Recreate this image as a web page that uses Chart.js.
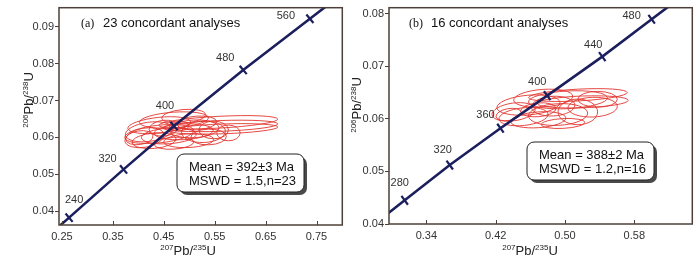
<!DOCTYPE html>
<html>
<head>
<meta charset="utf-8">
<script src="https://cdn.jsdelivr.net/npm/chart.js@4/dist/chart.umd.min.js"></script>
<style>
  html, body { margin: 0; padding: 0; background: #fff; }
  #wrap { position: relative; width: 700px; height: 255px; overflow: hidden; }
  .panel { position: absolute; top: 0; width: 350px; height: 255px; }
  #pa { left: 0; }
  #pb { left: 350px; }
</style>
</head>
<body>
<div id="wrap">
  <div class="panel" id="pa"><canvas id="chartA" width="350" height="255"></canvas></div>
  <div class="panel" id="pb"><canvas id="chartB" width="350" height="255"></canvas></div>
</div>
<script>
// ---- (a) 23 concordant analyses ----
const agesA = [240, 320, 400, 480, 560];
const concXA = [0.264, 0.371, 0.470, 0.606, 0.737];
const concYA = [0.0382, 0.0513, 0.0631, 0.0783, 0.0922];
const concEndXA = [0.245, 0.770];
const concEndYA = [0.0359, 0.0957];
const xTicksA = [0.25, 0.35, 0.45, 0.55, 0.65, 0.75];
const xLabelsA = ['0.25', '0.35', '0.45', '0.55', '0.65', '0.75'];
const yTicksA = [0.04, 0.05, 0.06, 0.07, 0.08, 0.09];
const yLabelsA = ['0.04', '0.05', '0.06', '0.07', '0.08', '0.09'];
// error ellipses: centre, semi-axes (data units), tilt (deg)
const ellXA = [0.557, 0.561, 0.567, 0.489, 0.470, 0.441, 0.421, 0.412, 0.402, 0.431, 0.460, 0.489, 0.509, 0.528, 0.548, 0.538, 0.499, 0.470, 0.450, 0.515, 0.577, 0.441, 0.480];
const ellYA = [0.0641, 0.0631, 0.0623, 0.0657, 0.0647, 0.0633, 0.0615, 0.0599, 0.0599, 0.0591, 0.0604, 0.0615, 0.0623, 0.0615, 0.0620, 0.0601, 0.0591, 0.0584, 0.0625, 0.0639, 0.0612, 0.0609, 0.0631];
const ellSxA = [0.117, 0.113, 0.107, 0.043, 0.068, 0.062, 0.047, 0.039, 0.027, 0.043, 0.054, 0.058, 0.049, 0.043, 0.029, 0.035, 0.049, 0.039, 0.029, 0.039, 0.023, 0.068, 0.019];
const ellSyA = [0.0016, 0.00146, 0.00133, 0.00186, 0.00213, 0.00213, 0.0026, 0.0026, 0.00186, 0.0021, 0.00213, 0.00213, 0.0024, 0.0029, 0.0024, 0.00213, 0.00186, 0.0016, 0.00213, 0.00186, 0.00213, 0.0024, 0.00133];
const ellTiltA = [-3, -2, -2, -5, -4, -6, -8, -10, -8, -5, -4, -3, -3, -2, 0, -2, -3, -4, -6, -4, 0, -6, 0];
const statsA = ['Mean = 392±3 Ma', 'MSWD = 1.5,n=23'];

// ---- (b) 16 concordant analyses ----
const agesB = [280, 320, 360, 400, 440, 480];
const concXB = [0.315, 0.367, 0.4255, 0.4795, 0.543, 0.600];
const concYB = [0.0445, 0.0512, 0.0582, 0.0644, 0.0718, 0.0789];
const concEndXB = [0.295, 0.620];
const concEndYB = [0.0419, 0.0814];
const xTicksB = [0.34, 0.42, 0.50, 0.58];
const xLabelsB = ['0.34', '0.42', '0.50', '0.58'];
const yTicksB = [0.04, 0.05, 0.06, 0.07, 0.08];
const yLabelsB = ['0.04', '0.05', '0.06', '0.07', '0.08'];
const ellXB = [0.5148, 0.5205, 0.5034, 0.4749, 0.4578, 0.4407, 0.4521, 0.4692, 0.4920, 0.5148, 0.5319, 0.4863, 0.5376, 0.4692, 0.4977, 0.435];
const ellYB = [0.0645, 0.0632, 0.0636, 0.0639, 0.0626, 0.0613, 0.0604, 0.0598, 0.0608, 0.0613, 0.0622, 0.0624, 0.0637, 0.0617, 0.0591, 0.0608];
const ellSxB = [0.0570, 0.0525, 0.0456, 0.0342, 0.0365, 0.0251, 0.0285, 0.0319, 0.0342, 0.0228, 0.0285, 0.0251, 0.0228, 0.0205, 0.0251, 0.0148];
const ellSyB = [0.00112, 0.00112, 0.00168, 0.00168, 0.00187, 0.00168, 0.00168, 0.0015, 0.00206, 0.00243, 0.00187, 0.00187, 0.0015, 0.00131, 0.00093, 0.00112];
const ellTiltB = [-3, -2, -3, -4, -5, -8, -6, -4, -3, 0, -2, -3, 0, -5, -3, -10];
const statsB = ['Mean = 388±2 Ma', 'MSWD = 1.2,n=16'];

const NAVY = '#1b1f5e';
const FRAME = '#4d4039';
const RED = '#e2362f';
const SANS = "'Liberation Sans', Arial, sans-serif";

// text with superscript mass numbers, e.g. 207Pb/235U
function isoText(ctx, parts, cx, baseY) {
  const big = '13px ' + SANS, sup = '8px ' + SANS;
  let w = 0;
  parts.forEach(p => { ctx.font = p[1] ? sup : big; w += ctx.measureText(p[0]).width; });
  let x = cx - w / 2;
  ctx.textAlign = 'left';
  ctx.textBaseline = 'alphabetic';
  parts.forEach(p => {
    ctx.font = p[1] ? sup : big;
    ctx.fillText(p[0], x, p[1] ? baseY - 5 : baseY);
    x += ctx.measureText(p[0]).width;
  });
}

function makeDeco(cfg) {
  return {
    id: 'deco' + cfg.tag,
    beforeDatasetsDraw(chart) {
      const { ctx, chartArea: ca, scales: { x, y } } = chart;
      ctx.save();
      ctx.beginPath();
      ctx.rect(ca.left, ca.top, ca.width, ca.height);
      ctx.clip();
      ctx.strokeStyle = RED;
      ctx.lineWidth = 0.9;
      cfg.ex.forEach((ex, i) => {
        const px = x.getPixelForValue(ex);
        const py = y.getPixelForValue(cfg.ey[i]);
        const rx = Math.abs(x.getPixelForValue(ex + cfg.sx[i]) - px);
        const ry = Math.abs(y.getPixelForValue(cfg.ey[i] + cfg.sy[i]) - py);
        ctx.beginPath();
        ctx.ellipse(px, py, rx, ry, cfg.tilt[i] * Math.PI / 180, 0, Math.PI * 2);
        ctx.stroke();
      });
      ctx.restore();
    },
    afterDraw(chart) {
      const { ctx, chartArea: ca, scales: { x, y } } = chart;
      ctx.save();
      // frame + inward x ticks
      ctx.strokeStyle = FRAME;
      ctx.lineWidth = 1.5;
      ctx.strokeRect(ca.left, ca.top, ca.width, ca.height);
      ctx.lineWidth = 1;
      x.ticks.forEach(t => {
        const px = Math.round(x.getPixelForValue(t.value)) + 0.5;
        ctx.beginPath();
        ctx.moveTo(px, ca.bottom);
        ctx.lineTo(px, ca.bottom - 4);
        ctx.stroke();
      });
      // age labels on concordia
      ctx.fillStyle = '#333';
      ctx.font = '11px ' + SANS;
      ctx.textAlign = 'center';
      ctx.textBaseline = 'middle';
      cfg.ages.forEach((age, i) => {
        const px = x.getPixelForValue(cfg.cx[i]);
        const py = y.getPixelForValue(cfg.cy[i]);
        ctx.fillText(String(age), px + cfg.labOff[i][0], py + cfg.labOff[i][1]);
      });
      // panel title
      ctx.fillStyle = '#111';
      ctx.textAlign = 'left';
      ctx.textBaseline = 'alphabetic';
      ctx.font = "12px 'Liberation Serif', 'Times New Roman', serif";
      ctx.fillText(cfg.letter, cfg.titlePos[0], cfg.titlePos[1]);
      ctx.font = '13px ' + SANS;
      ctx.fillText(cfg.title, cfg.titlePos[0] + 22, cfg.titlePos[1]);
      // stats box
      const [bx, by, bw, bh] = cfg.box;
      ctx.fillStyle = '#4a4a4a';
      ctx.beginPath(); ctx.roundRect(bx + 3, by + 3, bw, bh, 7); ctx.fill();
      ctx.fillStyle = '#fff';
      ctx.beginPath(); ctx.roundRect(bx, by, bw, bh, 7); ctx.fill();
      ctx.strokeStyle = '#222';
      ctx.lineWidth = 1;
      ctx.stroke();
      ctx.fillStyle = '#111';
      ctx.font = '13px ' + SANS;
      cfg.stats.forEach((s, i) => ctx.fillText(s, bx + 12, by + 16.5 + i * 14.5));
      // axis titles
      ctx.fillStyle = '#222';
      isoText(ctx, [['207', 1], ['Pb/', 0], ['235', 1], ['U', 0]], cfg.xTitle[0], cfg.xTitle[1]);
      ctx.translate(cfg.yTitle[0], cfg.yTitle[1]);
      ctx.rotate(-Math.PI / 2);
      isoText(ctx, [['206', 1], ['Pb/', 0], ['238', 1], ['U', 0]], 0, 0);
      ctx.restore();
    }
  };
}

function makeChart(id, d) {
  const linePts = [{ x: d.endX[0], y: d.endY[0] }]
    .concat(d.cx.map((v, i) => ({ x: v, y: d.cy[i] })))
    .concat([{ x: d.endX[1], y: d.endY[1] }]);
  const tickPts = d.cx.map((v, i) => ({ x: v, y: d.cy[i] }));
  return new Chart(document.getElementById(id), {
    type: 'scatter',
    data: {
      datasets: [{
        data: linePts,
        showLine: true,
        borderColor: NAVY,
        borderWidth: 2.6,
        pointRadius: 0,
        tension: 0
      }, {
        data: tickPts,
        showLine: false,
        pointStyle: 'line',
        pointRadius: 5.5,
        rotation: d.tickRot,
        borderColor: NAVY,
        borderWidth: 2.2
      }]
    },
    options: {
      responsive: false,
      animation: false,
      devicePixelRatio: 1,
      layout: { padding: { left: 0, right: 5, top: d.padTop, bottom: 0 } },
      plugins: { legend: { display: false }, tooltip: { enabled: false } },
      scales: {
        x: {
          type: 'linear',
          min: d.xMin, max: d.xMax,
          grid: { display: false, drawTicks: false },
          border: { display: false },
          afterBuildTicks: s => { s.ticks = d.xTicks.map(v => ({ value: v })); },
          afterFit: s => { s.height = d.xAxisH; s.paddingLeft = 0; s.paddingRight = 0; },
          ticks: {
            padding: 5,
            color: '#333',
            font: { size: 11, family: SANS },
            maxRotation: 0,
            callback: (v, i) => d.xLabels[i]
          }
        },
        y: {
          type: 'linear',
          min: d.yMin, max: d.yMax,
          grid: { drawOnChartArea: false, drawTicks: true, tickLength: 4, color: FRAME, lineWidth: 1 },
          border: { display: false },
          afterBuildTicks: s => { s.ticks = d.yTicks.map(v => ({ value: v })); },
          afterFit: s => { s.width = d.yAxisW; s.paddingTop = 0; s.paddingBottom = 0; },
          ticks: {
            padding: 1,
            color: '#333',
            font: { size: 11, family: SANS },
            callback: (v, i) => d.yLabels[i]
          }
        }
      }
    },
    plugins: [makeDeco(d.deco)]
  });
}

makeChart('chartA', {
  cx: concXA, cy: concYA, endX: concEndXA, endY: concEndYA, tickRot: 50,
  xMin: 0.2442, xMax: 0.8006, yMin: 0.0362, yMax: 0.0952,
  xTicks: xTicksA, xLabels: xLabelsA, yTicks: yTicksA, yLabels: yLabelsA,
  padTop: 3, xAxisH: 30, yAxisW: 59,
  deco: {
    tag: 'A', ex: ellXA, ey: ellYA, sx: ellSxA, sy: ellSyA, tilt: ellTiltA,
    ages: agesA, cx: concXA, cy: concYA,
    labOff: [[5, -18], [-16, -10], [-9, -20], [-18, -12], [-24, -3]],
    letter: '(a)', title: '23 concordant analyses', titlePos: [81, 27],
    box: [177, 154, 127, 38], stats: statsA,
    xTitle: [188, 255], yTitle: [33, 100]
  }
});

makeChart('chartB', {
  cx: concXB, cy: concYB, endX: concEndXB, endY: concEndYB, tickRot: 54,
  xMin: 0.2969, xMax: 0.6469, yMin: 0.04, yMax: 0.0811,
  xTicks: xTicksB, xLabels: xLabelsB, yTicks: yTicksB, yLabels: yLabelsB,
  padTop: 4, xAxisH: 31, yAxisW: 39,
  deco: {
    tag: 'B', ex: ellXB, ey: ellYB, sx: ellSxB, sy: ellSyB, tilt: ellTiltB,
    ages: agesB, cx: concXB, cy: concYB,
    labOff: [[-5, -17], [-7, -15], [-15, -13], [-10, -14], [-9, -12], [-20, -3]],
    letter: '(b)', title: '16 concordant analyses', titlePos: [59, 27],
    box: [177, 142, 127, 38], stats: statsB,
    xTitle: [180, 255], yTitle: [11, 105]
  }
});
</script>
</body>
</html>
